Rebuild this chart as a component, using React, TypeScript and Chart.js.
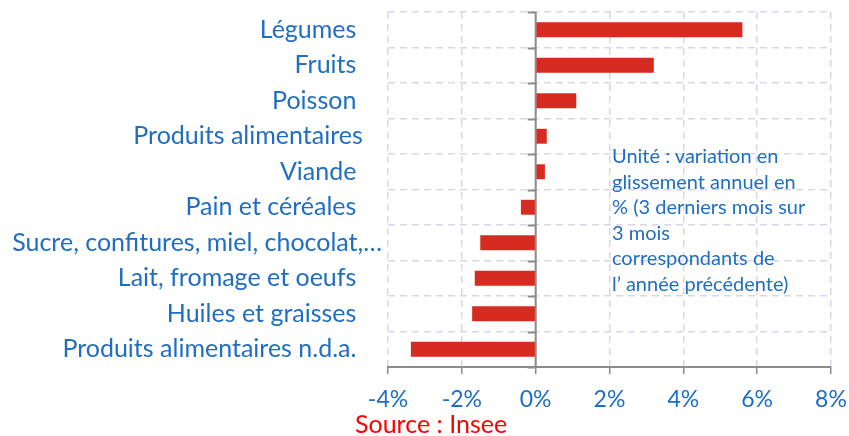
import React, { useEffect, useRef } from "react";
import { Chart, registerables } from "chart.js";

Chart.register(...registerables);

// ---- data ----
const categories: string[] = [
  "Légumes    ",
  "Fruits    ",
  "Poisson    ",
  "Produits alimentaires   ",
  "Viande    ",
  "Pain et céréales    ",
  "Sucre, confitures, miel, chocolat,…",
  "Lait, fromage et oeufs    ",
  "Huiles et graisses    ",
  "Produits alimentaires n.d.a.    ",
];
const values: number[] = [5.6, 3.2, 1.1, 0.3, 0.25, -0.4, -1.5, -1.65, -1.72, -3.38];
const xMin = -4;
const xMax = 8;
const xStep = 2;
const noteLines: string[] = [
  "Unité : variation en",
  "glissement annuel en",
  "% (3 derniers mois sur",
  "3 mois",
  "correspondants de",
  "l’ année précédente)",
];
const sourceText = "Source : Insee";

const BLUE = "#1F6EC3";
const RED = "#D62B20";
const AXIS = "#8C8C8C";
const GRID = "#DAD5E8";
const FONT = "Lato";

const zeroLinePlugin = {
  id: "zeroLine",
  beforeDatasetsDraw(chart: any) {
    const { ctx, chartArea, scales } = chart;
    const x0 = scales.x.getPixelForValue(0);
    const n = categories.length;
    const step = (chartArea.bottom - chartArea.top) / n;
    ctx.save();
    ctx.strokeStyle = AXIS;
    ctx.lineWidth = 2;
    ctx.beginPath();
    ctx.moveTo(x0, chartArea.top);
    ctx.lineTo(x0, chartArea.bottom);
    for (let i = 0; i <= n; i++) {
      const y = Math.round(chartArea.top + i * step) + 0.5;
      ctx.moveTo(x0 - 8, y);
      ctx.lineTo(x0, y);
    }
    ctx.stroke();
    ctx.restore();
  },
};

export default function App() {
  const ref = useRef<HTMLCanvasElement | null>(null);

  useEffect(() => {
    if (!ref.current) return;
    const chart = new Chart(ref.current, {
      type: "bar",
      data: {
        labels: categories,
        datasets: [
          {
            data: values,
            backgroundColor: RED,
            borderWidth: 0,
            barPercentage: 0.42,
            categoryPercentage: 1,
          },
        ],
      },
      options: {
        indexAxis: "y",
        responsive: false,
        animation: false,
        layout: { padding: { left: 0, right: 18, top: 12, bottom: 0 } },
        plugins: {
          legend: { display: false },
          tooltip: { enabled: false },
        },
        scales: {
          x: {
            type: "linear",
            min: xMin,
            max: xMax,
            ticks: {
              stepSize: xStep,
              color: BLUE,
              font: { family: FONT, size: 23 },
              padding: 12,
              callback: (v: any) => `${v}%`,
            },
            grid: {
              color: GRID,
              lineWidth: 1.5,
              drawTicks: true,
              tickLength: 7,
              tickColor: AXIS,
              tickWidth: 1.5,
              tickBorderDash: [],
            },
            border: { display: true, color: AXIS, width: 2, dash: [7, 5] },
            afterFit: (scale: any) => {
              scale.height = 69;
              scale.paddingLeft = 0;
              scale.paddingRight = 0;
            },
          },
          y: {
            type: "category",
            ticks: {
              color: BLUE,
              font: { family: FONT, size: 25 },
              padding: 6,
              autoSkip: false,
            },
            grid: {
              color: GRID,
              lineWidth: 1.5,
              drawTicks: false,
              offset: true,
            },
            border: { display: false, dash: [7, 5] },
            afterFit: (scale: any) => {
              scale.width = 388;
              scale.paddingTop = 0;
              scale.paddingBottom = 0;
            },
          },
        },
      },
      plugins: [zeroLinePlugin],
    });
    return () => chart.destroy();
  }, []);

  return (
    <div style={{ position: "absolute", left: 0, top: 0, width: 849, height: 436, background: "#fff" }}>
      <canvas ref={ref} width={849} height={436} style={{ display: "block" }} />
      <div
        style={{
          position: "absolute",
          left: 612,
          top: 143,
          fontFamily: FONT,
          fontSize: 20,
          lineHeight: "25.6px",
          color: BLUE,
          whiteSpace: "pre",
        }}
      >
        {noteLines.map((l, i) => (
          <div key={i}>{l}</div>
        ))}
      </div>
      <div
        style={{
          position: "absolute",
          left: 355,
          top: 409,
          fontFamily: FONT,
          fontSize: 25,
          lineHeight: "28px",
          color: "#FF0000",
          whiteSpace: "pre",
        }}
      >
        {sourceText}
      </div>
    </div>
  );
}
